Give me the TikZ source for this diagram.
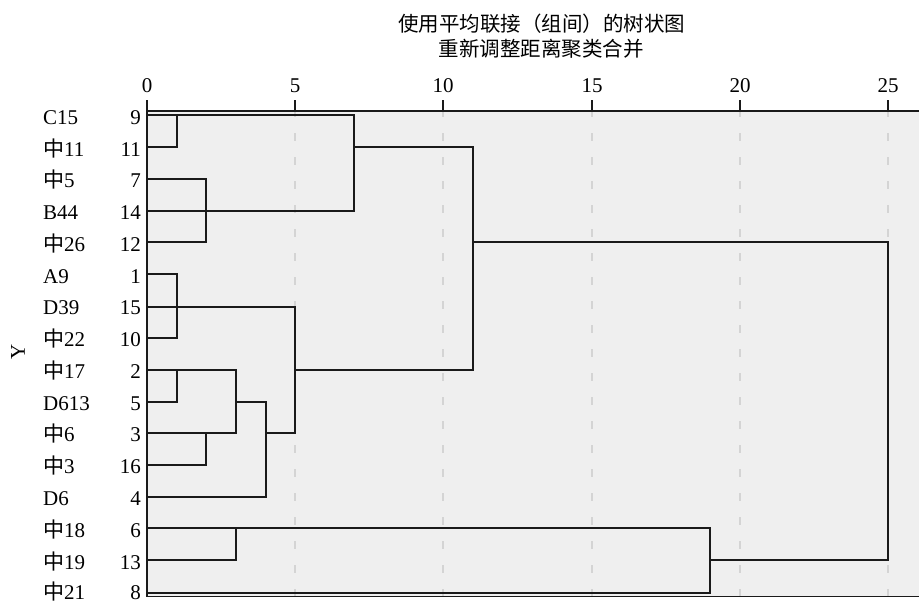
\documentclass[tikz,border=0pt]{standalone}
\usepackage{fontspec}
\setmainfont{Liberation Serif}
\newfontfamily\cjk{Noto Sans CJK SC}
\definecolor{panelbg}{RGB}{239,239,239}
\definecolor{gridc}{RGB}{212,212,212}
\definecolor{linec}{RGB}{26,26,26}
\begin{document}
\begin{tikzpicture}[x=1pt,y=-1pt,
  lbl/.style={font=\fontsize{21}{21}\selectfont, inner sep=0pt},
  namelbl/.style={lbl, anchor=base west},
  numlbl/.style={lbl, anchor=base east},
  ticklbl/.style={lbl, anchor=base},
  tree/.style={draw=linec, line width=1.5pt, line cap=rect},
  frame/.style={draw=linec, line width=1.4pt},
  gridl/.style={draw=gridc, line width=1.4pt, dash pattern=on 8pt off 16pt}]
\useasboundingbox (0,0) rectangle (919,603);
% panel
\fill[panelbg] (147,111) rectangle (919,596);
% grid
\foreach \gx in {295,443,592,740,888} {
  \draw[gridl] (\gx,109) -- (\gx,596);
}
% frame and ticks
\draw[frame] (147,111) -- (919,111);
\draw[frame] (147,596.5) -- (919,596.5);
\draw[frame] (147,100) -- (147,596.5);
\foreach \gx in {295,443,592,740,888} {
  \draw[frame] (\gx,100) -- (\gx,111);
}
% tick labels
\node[ticklbl] (t0) at (147,92) {0};
\node[ticklbl] (t5) at (295,92) {5};
\node[ticklbl] (t10) at (443,92) {10};
\node[ticklbl] (t15) at (592,92) {15};
\node[ticklbl] (t20) at (740,92) {20};
\node[ticklbl] (t25) at (888,92) {25};
% title
\node[inner sep=0pt, font=\cjk\fontsize{20.5}{20.5}\selectfont] (title1) at (541.5,23.5) {使用平均联接（组间）的树状图};
\node[inner sep=0pt, font=\cjk\fontsize{20.5}{20.5}\selectfont] (title2) at (541,49) {重新调整距离聚类合并};
% axis label
\node[lbl, rotate=90] (ylab) at (18,352) {Y};
% row labels
\foreach \nm/\nu/\by [count=\i] in {
  C15/9/124, {{\cjk 中}11}/11/156, {{\cjk 中}5}/7/187.5, B44/14/219,
  {{\cjk 中}26}/12/251, A9/1/283, D39/15/314.5, {{\cjk 中}22}/10/346,
  {{\cjk 中}17}/2/378, D613/5/410, {{\cjk 中}6}/3/441.5, {{\cjk 中}3}/16/473,
  D6/4/505, {{\cjk 中}18}/6/537, {{\cjk 中}19}/13/569, {{\cjk 中}21}/8/599.5} {
  \node[namelbl] (name\i) at (43,\by) {\nm};
  \node[numlbl] (num\i) at (141,\by) {\nu};
}
% dendrogram
% cluster C15, zh11
\draw[tree] (147,115) -- (354,115);
\draw[tree] (147,147) -- (177,147) -- (177,115);
% cluster zh5, B44, zh26
\draw[tree] (147,179) -- (206,179) -- (206,242) -- (147,242);
\draw[tree] (147,211) -- (354,211);
\draw[tree] (354,115) -- (354,211);
\draw[tree] (354,147) -- (473,147);
% cluster A9, D39, zh22
\draw[tree] (147,274) -- (177,274) -- (177,338) -- (147,338);
\draw[tree] (147,307) -- (295,307);
% cluster zh17 .. D6
\draw[tree] (147,370) -- (236,370);
\draw[tree] (147,402) -- (177,402) -- (177,370);
\draw[tree] (147,433) -- (236,433);
\draw[tree] (206,433) -- (206,465) -- (147,465);
\draw[tree] (236,370) -- (236,433);
\draw[tree] (236,402) -- (266,402);
\draw[tree] (266,402) -- (266,497) -- (147,497);
\draw[tree] (266,433) -- (295,433);
\draw[tree] (295,307) -- (295,433);
\draw[tree] (295,370) -- (473,370);
\draw[tree] (473,147) -- (473,370);
\draw[tree] (473,242) -- (888,242);
% cluster zh18, zh19, zh21
\draw[tree] (147,528) -- (710,528);
\draw[tree] (236,528) -- (236,560) -- (147,560);
\draw[tree] (147,593) -- (710,593);
\draw[tree] (710,528) -- (710,593);
\draw[tree] (710,560) -- (888,560);
\draw[tree] (888,242) -- (888,560);
\end{tikzpicture}
\end{document}
